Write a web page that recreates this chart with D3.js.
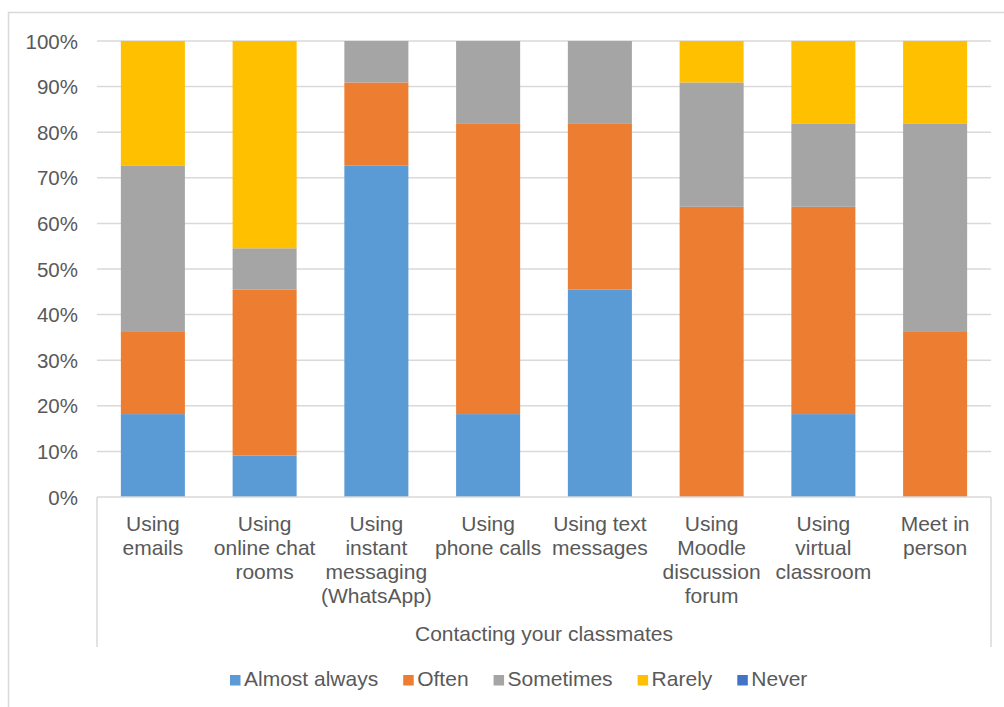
<!DOCTYPE html>
<html>
<head>
<meta charset="utf-8">
<script src="https://cdn.jsdelivr.net/npm/d3@7/dist/d3.min.js"></script>
<style>
  html, body { margin: 0; padding: 0; background: #ffffff; }
  svg { display: block; font-family: "Liberation Sans", Arial, sans-serif; }
</style>
</head>
<body>
<svg id="chart" width="1004" height="707"></svg>
<script>
// Survey: how often students contact classmates through each channel (share of respondents, %)
const categories = [
  "Using emails",
  "Using online chat rooms",
  "Using instant messaging (WhatsApp)",
  "Using phone calls",
  "Using text messages",
  "Using Moodle discussion forum",
  "Using virtual classroom",
  "Meet in person"
];
// Category labels as they wrap under the axis
const categoryLines = [
  ["Using", "emails"],
  ["Using", "online chat", "rooms"],
  ["Using", "instant", "messaging", "(WhatsApp)"],
  ["Using", "phone calls"],
  ["Using text", "messages"],
  ["Using", "Moodle", "discussion", "forum"],
  ["Using", "virtual", "classroom"],
  ["Meet in", "person"]
];
const seriesNames = ["Almost always", "Often", "Sometimes", "Rarely", "Never"];
const almostAlways = [18.18, 9.09, 72.73, 18.18, 45.45, 0, 18.18, 0];
const often        = [18.18, 36.36, 18.18, 63.64, 36.36, 63.64, 45.45, 36.36];
const sometimes    = [36.36, 9.09, 9.09, 18.18, 18.18, 27.27, 18.18, 45.45];
const rarely       = [27.27, 45.45, 0, 0, 0, 9.09, 18.18, 18.18];
const never        = [0, 0, 0, 0, 0, 0, 0, 0];
const yTicks = [0, 0.1, 0.2, 0.3, 0.4, 0.5, 0.6, 0.7, 0.8, 0.9, 1.0];
const axisTitle = "Contacting your classmates";

const colors = ["#5B9BD5", "#ED7D31", "#A5A5A5", "#FFC000", "#4472C4"];
const textColor = "#595959";
const lineColor = "#D9D9D9";
const tickFontSize = 20.5;
const fontSize = 21;

const seriesValues = [almostAlways, often, sometimes, rarely, never];
const rows = categories.map((c, i) => {
  const r = { category: c };
  seriesNames.forEach((s, k) => { r[s] = seriesValues[k][i]; });
  return r;
});

const stack = d3.stack().keys(seriesNames).offset(d3.stackOffsetExpand);
const stacked = stack(rows);

const svg = d3.select("#chart");

// Chart frame
svg.append("rect")
  .attr("x", 8.5).attr("y", 12.5)
  .attr("width", 1100).attr("height", 800)
  .attr("fill", "none").attr("stroke", lineColor).attr("stroke-width", 1.5);

const plot = { left: 97, right: 991, top: 41, bottom: 497 };

const x = d3.scaleBand()
  .domain(categories)
  .range([plot.left, plot.right])
  .paddingInner(0.427)
  .paddingOuter(0.2135);

const y = d3.scaleLinear().domain([0, 1]).range([plot.bottom, plot.top]);

// Gridlines
svg.append("g")
  .selectAll("line")
  .data(yTicks.filter(t => t > 0))
  .join("line")
  .attr("x1", plot.left).attr("x2", plot.right)
  .attr("y1", d => y(d)).attr("y2", d => y(d))
  .attr("stroke", lineColor).attr("stroke-width", 1.5);

// Y axis labels
const yAxis = d3.axisLeft(y).tickValues(yTicks).tickFormat(d3.format(".0%")).tickSize(0).tickPadding(0);
const yg = svg.append("g").attr("transform", `translate(${78},0)`).call(yAxis);
yg.select(".domain").remove();
yg.selectAll("text")
  .attr("fill", textColor)
  .style("font-size", tickFontSize + "px")
  .style("font-family", '"Liberation Sans", Arial, sans-serif')
  .attr("dy", "0.35em");

// Stacked bars
svg.append("g")
  .selectAll("g")
  .data(stacked)
  .join("g")
  .attr("fill", (d, i) => colors[i])
  .selectAll("rect")
  .data(d => d)
  .join("rect")
  .attr("x", d => x(d.data.category))
  .attr("width", x.bandwidth())
  .attr("y", d => y(d[1]))
  .attr("height", d => Math.max(0, y(d[0]) - y(d[1])));

// Category axis box
const boxBottom = 647;
const axisG = svg.append("g").attr("stroke", lineColor).attr("stroke-width", 1.5);
axisG.append("line").attr("x1", plot.left).attr("x2", plot.right).attr("y1", plot.bottom).attr("y2", plot.bottom);
axisG.append("line").attr("x1", plot.left).attr("x2", plot.left).attr("y1", plot.bottom).attr("y2", boxBottom);
axisG.append("line").attr("x1", plot.right).attr("x2", plot.right).attr("y1", plot.bottom).attr("y2", boxBottom);

// Category labels
const labelG = svg.append("g")
  .attr("fill", textColor)
  .style("font-size", fontSize + "px")
  .attr("text-anchor", "middle");
categories.forEach((c, i) => {
  const t = labelG.append("text")
    .attr("x", x(c) + x.bandwidth() / 2)
    .attr("y", 530.5);
  categoryLines[i].forEach((ln, j) => {
    t.append("tspan")
      .attr("x", x(c) + x.bandwidth() / 2)
      .attr("dy", j === 0 ? 0 : 24)
      .text(ln);
  });
});

// Axis title
svg.append("text")
  .attr("x", (plot.left + plot.right) / 2)
  .attr("y", 640.5)
  .attr("text-anchor", "middle")
  .attr("fill", textColor)
  .style("font-size", fontSize + "px")
  .text(axisTitle);

// Legend
const legend = svg.append("g");
const items = legend.selectAll("g").data(seriesNames).join("g");
items.append("rect")
  .attr("width", 10.5).attr("height", 10.5)
  .attr("y", 675)
  .attr("fill", (d, i) => colors[i]);
items.append("text")
  .attr("x", 14)
  .attr("y", 685.5)
  .attr("fill", textColor)
  .style("font-size", fontSize + "px")
  .text(d => d);
let cursor = 230;
items.each(function () {
  const g = d3.select(this);
  g.attr("transform", `translate(${cursor},0)`);
  const w = g.select("text").node().getComputedTextLength();
  cursor += 14 + w + 25;
});
</script>
</body>
</html>
